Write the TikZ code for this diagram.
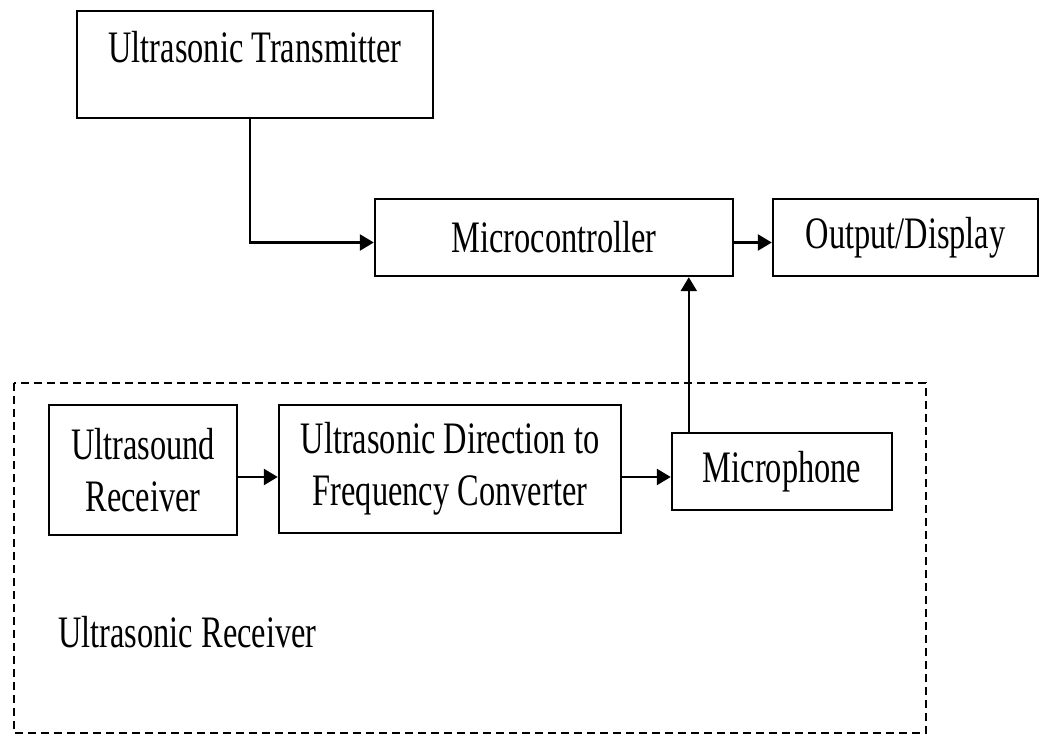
\documentclass[tikz,border=0pt]{standalone}
\usepackage{fontspec}
\setmainfont[FakeStretch=0.72]{Liberation Serif}
\usetikzlibrary{arrows.meta}
\tikzset{
  block/.style={draw,line width=1.2pt,inner sep=0pt,align=center,
    font=\fontsize{22.5}{26}\selectfont},
  flow/.style={line width=1.2pt,-{Triangle[length=7pt,width=8pt]}}
}
\begin{document}
\begin{tikzpicture}[x=0.5pt,y=-0.5pt]
    \useasboundingbox (0,0) rectangle (1045,738);
    % upper row
    \node[block,minimum width=178pt,text height=26pt,text depth=27.5pt]
      (trans) at (255,64.5) {Ultrasonic Transmitter};
    \node[block,minimum width=179pt,minimum height=38.5pt]
      (micro) at (554,237.5) {Microcontroller};
    \node[block,minimum width=132.5pt,minimum height=38.5pt]
      (out) at (905.5,237.5) {Output/Display};

    % receiver group
    \draw[line width=0.8pt,dash pattern=on 4pt off 2.5pt] (14,383) rectangle (926,733);
    \node[block,minimum width=94pt,minimum height=65pt]
      (recv) at (143,470) {Ultrasound\\Receiver};
    \node[block,minimum width=171pt,minimum height=64pt]
      (conv) at (450,469) {Ultrasonic Direction to\\Frequency Converter};
    \node[block,minimum width=110pt,minimum height=38.5pt]
      (mic) at (782,471.5) {Microphone};
    \node[anchor=base west,inner sep=0pt,font=\fontsize{22.5}{26}\selectfont]
      (grp) at (58,647) {Ultrasonic Receiver};

    % connectors
    \coordinate (tout) at ([xshift=-2.5pt]trans.south);
    \coordinate (min) at ([yshift=-2.5pt]micro.west);
    \coordinate (mout) at ([yshift=-2.5pt]micro.east);
    \coordinate (rout) at ([yshift=-3.5pt]recv.east);
    \coordinate (cout) at ([yshift=-4pt]conv.east);
    \coordinate (micup) at ([xshift=9pt]mic.north west);
    \draw[flow] (tout) |- (min);
    \draw[flow] (mout) -- (mout -| out.west);
    \draw[flow] (rout) -- (rout -| conv.west);
    \draw[flow] (cout) -- (cout -| mic.west);
    \draw[flow] (micup) -- (micup |- micro.south);
\end{tikzpicture}
\end{document}
